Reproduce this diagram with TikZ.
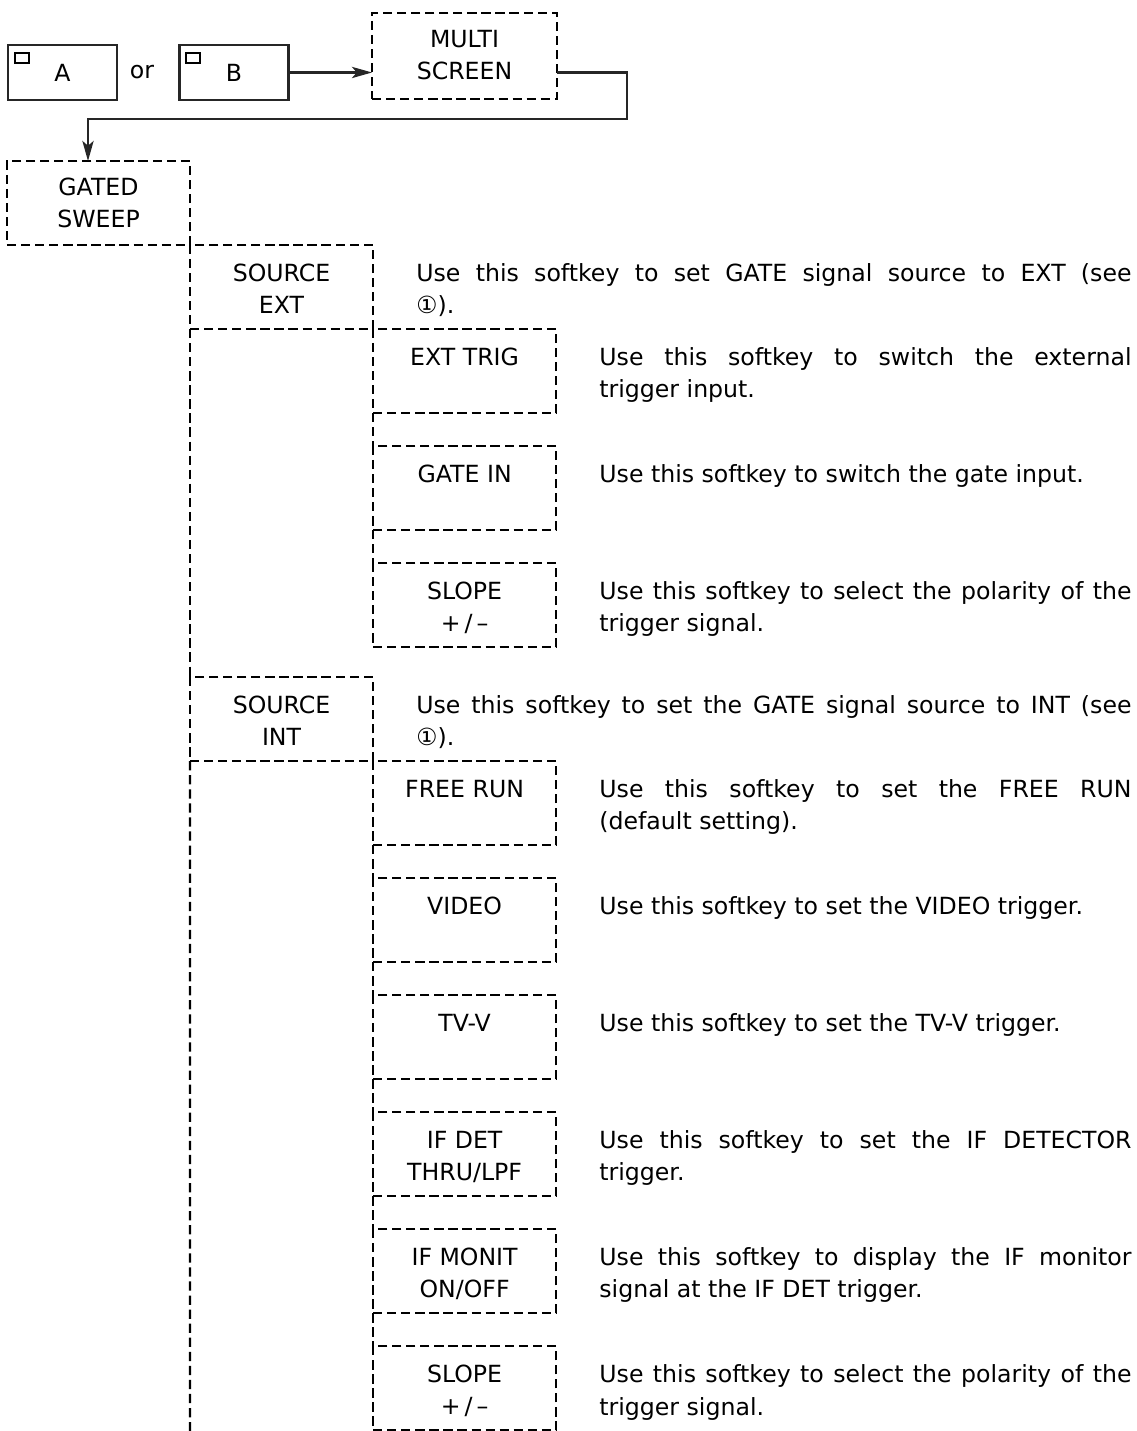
\documentclass[tikz,border=0pt]{standalone}
\usepackage{fontspec}
\setmainfont{DejaVu Sans}
\usetikzlibrary{positioning, arrows.meta}

\newcommand{\keyfont}{\fontsize{16.8}{22.8}\selectfont}

\begin{document}
\begin{tikzpicture}[
    x=0.025cm, y=-0.025cm,
    node distance=0.825cm and 0cm,
    >={Stealth[length=0.5cm, width=0.28cm, inset=0.12cm]},
    % --- styles ---
    dashdash/.style={dash pattern=on 6.6pt off 3.4pt},
    hardkey/.style={draw=black!85, line width=2pt, minimum width=2.725cm,
                    minimum height=1.375cm, outer sep=0pt, inner sep=0pt, font=\keyfont},
    keymark/.style={draw, line width=1.3pt, minimum width=0.35cm, minimum height=0.25cm,
                    inner sep=0pt, anchor=north west},
    softkey/.style={draw, dashdash, line width=1.6pt, minimum width=4.575cm,
                    minimum height=2.1cm, outer sep=0pt, inner sep=0pt},
    keylabel/.style={anchor=north, align=center, inner sep=0pt, font=\keyfont},
    descr/.style={anchor=north west, align=justify, text width=13.3cm, inner sep=0pt, font=\keyfont},
    srcdescr/.style={descr, text width=17.875cm},
    link/.style={line width=1.8pt, draw=black!85},
    trunk/.style={dashdash, line width=1.6pt}
]
\useasboundingbox (0,0) rectangle (1136,1431);

% ====== Keys on top ======
\node[hardkey] (keyA) at (62.5,72.5) {A};
\node[keymark] (keyAmark) at ([xshift=0.15cm, yshift=-0.175cm]keyA.north west) {};
\node[font=\keyfont] (orword) at (142,72.5) {or};
\node[hardkey] (keyB) at (234,72.5) {B};
\node[keymark] (keyBmark) at ([xshift=0.15cm, yshift=-0.175cm]keyB.north west) {};

\node[softkey, minimum width=4.625cm, minimum height=2.15cm] (multi) at (464.5,56) {};
\node[keylabel] (multiL) at ([yshift=-0.42cm]multi.north) {MULTI\\SCREEN};

\node[softkey] (gated) at (98.5,203) {};
\node[keylabel] (gatedL) at ([yshift=-0.42cm]gated.north) {GATED\\SWEEP};

% Connections on top
\coordinate (bend) at (627,119);
\coordinate (drop) at (88,119);
\draw[link, ->] (keyB.east) -- (keyB.east -| multi.west);
\draw[link, ->] (multi.east |- keyB.east) -| (bend) -- (drop) -- (drop |- gated.north);

% ====== SOURCE EXT ======
\node[softkey] (srcext) [below right=0cm and 0cm of gated] {};
\node[keylabel] (srcextL) at ([yshift=-0.46cm]srcext.north) {SOURCE\\EXT};
\node[srcdescr] (srcextD) at ([xshift=1.075cm]srcextL.north -| srcext.east)
    {Use this softkey to set GATE signal source to EXT (see\linebreak ①).};

\node[softkey] (exttrig) [below right=0cm and 0cm of srcext] {};
\node[keylabel] (exttrigL) at ([yshift=-0.46cm]exttrig.north) {EXT TRIG};
\node[descr] (exttrigD) at ([xshift=1.075cm]exttrigL.north -| exttrig.east)
    {Use this softkey to switch the external\linebreak trigger input.};

\node[softkey] (gatein) [below=of exttrig] {};
\node[keylabel] (gateinL) at ([yshift=-0.46cm]gatein.north) {GATE IN};
\node[descr] (gateinD) at ([xshift=1.075cm]gateinL.north -| gatein.east)
    {Use this softkey to switch the gate input.};

\node[softkey] (slopea) [below=of gatein] {};
\node[keylabel] (slopeaL) at ([yshift=-0.46cm]slopea.north) {SLOPE\\+\,/\,–};
\node[descr] (slopeaD) at ([xshift=1.075cm]slopeaL.north -| slopea.east)
    {Use this softkey to select the polarity of the\linebreak trigger signal.};

% ====== SOURCE INT ======
\node[softkey] (srcint) [below left=0.75cm and 0cm of slopea] {};
\node[keylabel] (srcintL) at ([yshift=-0.46cm]srcint.north) {SOURCE\\INT};
\node[srcdescr] (srcintD) at ([xshift=1.075cm]srcintL.north -| srcint.east)
    {Use this softkey to set the GATE signal source to INT (see\linebreak ①).};

\node[softkey] (freerun) [below right=0cm and 0cm of srcint] {};
\node[keylabel] (freerunL) at ([yshift=-0.46cm]freerun.north) {FREE RUN};
\node[descr] (freerunD) at ([xshift=1.075cm]freerunL.north -| freerun.east)
    {Use this softkey to set the FREE RUN\linebreak (default setting).};

\node[softkey] (video) [below=of freerun] {};
\node[keylabel] (videoL) at ([yshift=-0.46cm]video.north) {VIDEO};
\node[descr] (videoD) at ([xshift=1.075cm]videoL.north -| video.east)
    {Use this softkey to set the VIDEO trigger.};

\node[softkey] (tvv) [below=of video] {};
\node[keylabel] (tvvL) at ([yshift=-0.46cm]tvv.north) {TV-V};
\node[descr] (tvvD) at ([xshift=1.075cm]tvvL.north -| tvv.east)
    {Use this softkey to set the TV-V trigger.};

\node[softkey] (ifdet) [below=of tvv] {};
\node[keylabel] (ifdetL) at ([yshift=-0.46cm]ifdet.north) {IF DET\\THRU/LPF};
\node[descr] (ifdetD) at ([xshift=1.075cm]ifdetL.north -| ifdet.east)
    {Use this softkey to set the IF DETECTOR\linebreak trigger.};

\node[softkey] (ifmon) [below=of ifdet] {};
\node[keylabel] (ifmonL) at ([yshift=-0.46cm]ifmon.north) {IF MONIT\\ON/OFF};
\node[descr] (ifmonD) at ([xshift=1.075cm]ifmonL.north -| ifmon.east)
    {Use this softkey to display the IF monitor\linebreak signal at the IF DET trigger.};

\node[softkey] (slopeb) [below=of ifmon] {};
\node[keylabel] (slopebL) at ([yshift=-0.46cm]slopeb.north) {SLOPE\\+\,/\,–};
\node[descr] (slopebD) at ([xshift=1.075cm]slopebL.north -| slopeb.east)
    {Use this softkey to select the polarity of the\linebreak trigger signal.};

% Dashed trunks
\coordinate (trunkend) at (190,1431);
\draw[trunk] (srcext.south west) -- (srcint.north west);
\draw[trunk] (srcint.south west) -- (trunkend);
\draw[trunk] (exttrig.south west) -- (gatein.north west);
\draw[trunk] (gatein.south west) -- (slopea.north west);
\draw[trunk] (freerun.south west) -- (video.north west);
\draw[trunk] (video.south west) -- (tvv.north west);
\draw[trunk] (tvv.south west) -- (ifdet.north west);
\draw[trunk] (ifdet.south west) -- (ifmon.north west);
\draw[trunk] (ifmon.south west) -- (slopeb.north west);

\end{tikzpicture}
\end{document}
